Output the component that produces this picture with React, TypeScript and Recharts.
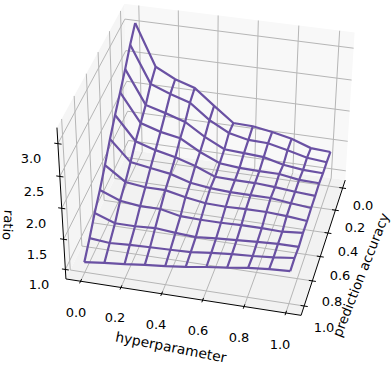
import React from 'react';
import { LineChart, Line, XAxis, YAxis } from 'recharts';

const hyperparameter = [0, 0.1, 0.2, 0.3, 0.4, 0.5, 0.6, 0.7, 0.8, 0.9, 1];
const predictionAccuracy = [0, 0.1, 0.2, 0.3, 0.4, 0.5, 0.6, 0.7, 0.8, 0.9, 1];
const ratioAcc00 = [3.08, 2.43, 2.27, 2.17, 1.92, 1.68, 1.67, 1.62, 1.55, 1.44, 1.42];
const ratioAcc01 = [2.90, 2.32, 2.20, 2.10, 1.86, 1.69, 1.62, 1.61, 1.54, 1.46, 1.43];
const ratioAcc02 = [2.68, 2.15, 2.06, 1.96, 1.76, 1.60, 1.58, 1.56, 1.48, 1.44, 1.43];
const ratioAcc03 = [2.48, 2.03, 1.93, 1.87, 1.69, 1.55, 1.52, 1.51, 1.51, 1.46, 1.45];
const ratioAcc04 = [2.29, 1.91, 1.81, 1.74, 1.64, 1.51, 1.50, 1.50, 1.48, 1.45, 1.43];
const ratioAcc05 = [2.08, 1.75, 1.70, 1.65, 1.55, 1.51, 1.49, 1.49, 1.49, 1.45, 1.42];
const ratioAcc06 = [1.84, 1.61, 1.57, 1.57, 1.50, 1.45, 1.44, 1.45, 1.45, 1.43, 1.40];
const ratioAcc07 = [1.62, 1.49, 1.45, 1.45, 1.38, 1.37, 1.37, 1.38, 1.38, 1.37, 1.40];
const ratioAcc08 = [1.43, 1.31, 1.31, 1.33, 1.30, 1.28, 1.31, 1.33, 1.35, 1.37, 1.37];
const ratioAcc09 = [1.21, 1.18, 1.20, 1.21, 1.22, 1.23, 1.27, 1.30, 1.32, 1.35, 1.39];
const ratioAcc10 = [1.01, 1.05, 1.08, 1.12, 1.15, 1.19, 1.24, 1.28, 1.33, 1.36, 1.38];
const ratioRows = [ratioAcc00, ratioAcc01, ratioAcc02, ratioAcc03, ratioAcc04, ratioAcc05, ratioAcc06, ratioAcc07, ratioAcc08, ratioAcc09, ratioAcc10];

const xTicks = [0, 0.2, 0.4, 0.6, 0.8, 1];
const yTicks = [0, 0.2, 0.4, 0.6, 0.8, 1];
const zTicks = [1, 1.5, 2, 2.5, 3];

const W = 392, H = 369;
const LOW = -0.073, RANGE = 1.146, ZLO = 0.84, ZHI = 3.24;
const corners = [
  [0, 1, 0, 65, 278], [1, 1, 0, 302, 315], [1, 0, 0, 345, 181], [0, 0, 0, 129, 150],
  [0, 1, 1, 57, 129], [0, 0, 1, 125, 3], [1, 0, 1, 354, 32],
];

function solve(A: number[][], b: number[]) {
  const n = b.length;
  const M = A.map((r, i) => [...r, b[i]]);
  for (let i = 0; i < n; i++) {
    let p = i;
    for (let k = i; k < n; k++) if (Math.abs(M[k][i]) > Math.abs(M[p][i])) p = k;
    [M[i], M[p]] = [M[p], M[i]];
    for (let k = 0; k < n; k++) {
      if (k === i) continue;
      const f = M[k][i] / M[i][i];
      for (let c = i; c <= n; c++) M[k][c] -= f * M[i][c];
    }
  }
  return M.map((r, i) => r[n] / r[i]);
}
function fitCamera() {
  const R: number[][] = [];
  const B: number[] = [];
  for (const [u, v, w, sx, sy] of corners) {
    const X = sx / 400, Y = sy / 400;
    R.push([u, v, w, 1, 0, 0, 0, 0, -X * u, -X * v, -X * w]); B.push(X);
    R.push([0, 0, 0, 0, u, v, w, 1, -Y * u, -Y * v, -Y * w]); B.push(Y);
  }
  const n = 11;
  const A = Array.from({ length: n }, (_, i) => Array.from({ length: n }, (_, j) => R.reduce((s, r) => s + r[i] * r[j], 0)));
  const b = Array.from({ length: n }, (_, i) => R.reduce((s, r, k) => s + r[i] * B[k], 0));
  return solve(A, b);
}
const cam = fitCamera();
const projectBox = (u: number, v: number, w: number) => {
  const d = cam[8] * u + cam[9] * v + cam[10] * w + 1;
  return {
    sx: (400 * (cam[0] * u + cam[1] * v + cam[2] * w + cam[3])) / d,
    sy: (400 * (cam[4] * u + cam[5] * v + cam[6] * w + cam[7])) / d,
  };
};
const uOf = (x: number) => (x - LOW) / RANGE;
const wOf = (z: number) => (z - ZLO) / (ZHI - ZLO);
const project = (x: number, y: number, z: number) => projectBox(uOf(x), uOf(y), wOf(z));
const poly = (pts: number[][]) => pts.map(([u, v, w]) => { const p = projectBox(u, v, w); return `${p.sx},${p.sy}`; }).join(' ');

const MESH = '#6a51a3', GRID = '#b6b6b6', AXIS = '#000000';
type L = { key: string; data: { sx: number; sy: number }[]; color: string; width: number };
const lines: L[] = [];
const add = (key: string, pts: number[][], color: string, width: number) =>
  lines.push({ key, data: pts.map(([u, v, w]) => projectBox(u, v, w)), color, width });

xTicks.forEach((t) => { const u = uOf(t); add(`gx${t}`, [[u, 1, 0], [u, 0, 0], [u, 0, 1]], GRID, 1); });
yTicks.forEach((t) => { const v = uOf(t); add(`gy${t}`, [[1, v, 0], [0, v, 0], [0, v, 1]], GRID, 1); });
zTicks.forEach((t) => { const w = wOf(t); add(`gz${t}`, [[0, 1, w], [0, 0, w], [1, 0, w]], GRID, 1); });
add('axX', [[0, 1, 0], [1, 1, 0]], AXIS, 1);
add('axY', [[1, 1, 0], [1, 0, 0]], AXIS, 1);
add('axZ', [[0, 1, 0], [0, 1, 1]], AXIS, 1);
xTicks.forEach((t) => { const u = uOf(t); add(`tx${t}`, [[u, 0.985, 0], [u, 1.015, 0]], AXIS, 1); });
yTicks.forEach((t) => { const v = uOf(t); add(`ty${t}`, [[0.985, v, 0], [1.015, v, 0]], AXIS, 1); });
zTicks.forEach((t) => { const w = wOf(t); add(`tz${t}`, [[0.015, 1, w], [-0.015, 1, w]], AXIS, 1); });

const meshLines: L[] = [];
ratioRows.forEach((row, j) => meshLines.push({
  key: `row${j}`, color: MESH, width: 2.2,
  data: row.map((z, i) => project(hyperparameter[i], predictionAccuracy[j], z)),
}));
hyperparameter.forEach((x, i) => meshLines.push({
  key: `col${i}`, color: MESH, width: 2.2,
  data: predictionAccuracy.map((y, j) => project(x, y, ratioRows[j][i])),
}));

const FONT = 'DejaVu Sans, sans-serif';
const xLabelPos = [[76, 312], [115, 317], [156, 324], [198, 330], [239, 337], [280, 344]];
const yLabelPos = [[363, 205], [355, 227], [348, 251], [340, 275], [332, 301], [324, 327]];
const zLabelPos = [[39, 284], [37, 254], [36, 223], [34, 191], [31, 158]];
const Tick = ({ p, t }: { p: number[]; t: number }) => (
  <text x={p[0]} y={p[1]} textAnchor="middle" dominantBaseline="central" fontFamily={FONT} fontSize={13} fill="#000">{t.toFixed(1)}</text>
);
const Title = ({ x, y, r, s, f }: { x: number; y: number; r: number; s: string; f: number }) => (
  <text x={x} y={y} transform={`rotate(${r} ${x} ${y})`} textAnchor="middle" dominantBaseline="central" fontFamily={FONT} fontSize={f} fill="#000">{s}</text>
);

export default function App() {
  return (
    <div style={{ position: 'absolute', left: 0, top: 0, width: W, height: H, background: '#fff' }}>
      <LineChart width={W} height={H} margin={{ top: 0, right: 0, bottom: 0, left: 0 }}>
        <XAxis type="number" dataKey="sx" domain={[0, W]} hide allowDataOverflow />
        <YAxis type="number" dataKey="sy" domain={[0, H]} reversed hide allowDataOverflow />
        <polygon points={poly([[0, 1, 0], [1, 1, 0], [1, 0, 0], [0, 0, 0]])} fill="#f2f2f2" />
        <polygon points={poly([[0, 0, 0], [1, 0, 0], [1, 0, 1], [0, 0, 1]])} fill="#f8f8f8" />
        <polygon points={poly([[0, 1, 0], [0, 0, 0], [0, 0, 1], [0, 1, 1]])} fill="#f5f5f5" />
        {[...lines, ...meshLines].map((l) => (
          <Line key={l.key} data={l.data} dataKey="sy" stroke={l.color} strokeWidth={l.width} dot={false} activeDot={false} legendType="none" isAnimationActive={false} />
        ))}
        {xTicks.map((t, i) => <Tick key={`xl${t}`} p={xLabelPos[i]} t={t} />)}
        {yTicks.map((t, i) => <Tick key={`yl${t}`} p={yLabelPos[i]} t={t} />)}
        {zTicks.map((t, i) => <Tick key={`zl${t}`} p={zLabelPos[i]} t={t} />)}
        <Title x={171} y={347} r={11} s="hyperparameter" f={13.8} />
        <Title x={361} y={275} r={-68.5} s="prediction accuracy" f={13.4} />
        <Title x={8} y={225} r={94} s="ratio" f={13.2} />
      </LineChart>
    </div>
  );
}
